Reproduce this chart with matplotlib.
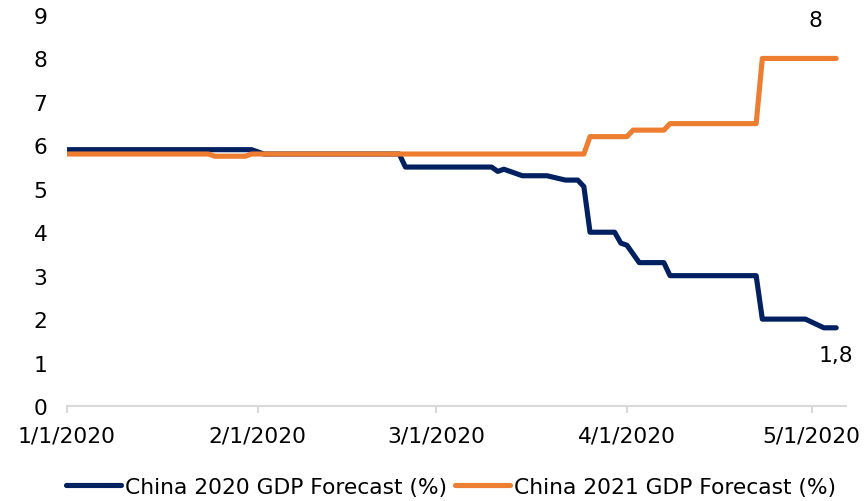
import matplotlib
matplotlib.use("Agg")
import matplotlib.pyplot as plt
import matplotlib.dates as mdates
from datetime import date

plt.rcParams['font.family'] = ['DejaVu Sans']

# China 2020 GDP forecast (%) – change points
dates_2020 = [
    "2020-01-01", "2020-01-31", "2020-02-02", "2020-02-24", "2020-02-25",
    "2020-03-10", "2020-03-11", "2020-03-12", "2020-03-15", "2020-03-19",
    "2020-03-22", "2020-03-24", "2020-03-25", "2020-03-26", "2020-03-30",
    "2020-03-31", "2020-04-01", "2020-04-03", "2020-04-07", "2020-04-08",
    "2020-04-22", "2020-04-23", "2020-04-30", "2020-05-03", "2020-05-05",
]
values_2020 = [
    5.9, 5.9, 5.8, 5.8, 5.5,
    5.5, 5.4, 5.45, 5.3, 5.3,
    5.2, 5.2, 5.05, 4.0, 4.0,
    3.75, 3.7, 3.3, 3.3, 3.0,
    3.0, 2.0, 2.0, 1.8, 1.8,
]

# China 2021 GDP forecast (%) – change points
dates_2021 = [
    "2020-01-01", "2020-01-24", "2020-01-25", "2020-01-30", "2020-01-31",
    "2020-03-25", "2020-03-26", "2020-04-01", "2020-04-02", "2020-04-07",
    "2020-04-08", "2020-04-22", "2020-04-23", "2020-05-05",
]
values_2021 = [
    5.8, 5.8, 5.75, 5.75, 5.8,
    5.8, 6.2, 6.2, 6.35, 6.35,
    6.5, 6.5, 8.0, 8.0,
]

tick_dates = ["2020-01-01", "2020-02-01", "2020-03-01", "2020-04-01", "2020-05-01"]
tick_labels = ["1/1/2020", "2/1/2020", "3/1/2020", "4/1/2020", "5/1/2020"]
y_ticks = list(range(0, 10))

label_2020 = "China 2020 GDP Forecast (%)"
label_2021 = "China 2021 GDP Forecast (%)"

NAVY = "#002060"
ORANGE = "#ED7D31"
AXIS_GREY = "#D9D9D9"
FS = 15.7


def to_num(ds):
    return [mdates.date2num(date.fromisoformat(d)) for d in ds]


x20 = to_num(dates_2020)
x21 = to_num(dates_2021)
xt = to_num(tick_dates)

fig = plt.figure(figsize=(8.68, 5.02), dpi=100)
ax = fig.add_axes([67 / 868, 95 / 502, (846 - 67) / 868, (407 - 16) / 502])

l1, = ax.plot(x20, values_2020, color=NAVY, lw=3.7, solid_capstyle="round",
              solid_joinstyle="round", label=label_2020, zorder=2)
l2, = ax.plot(x21, values_2021, color=ORANGE, lw=3.7, solid_capstyle="round",
              solid_joinstyle="round", label=label_2021, zorder=3)

ax.set_ylim(0, 9)
ax.set_xlim(xt[0], mdates.date2num(date(2020, 5, 6)) + 0.6)

ax.set_yticks(y_ticks)
ax.set_yticklabels([str(v) for v in y_ticks], fontsize=FS)
ax.set_xticks(xt)
ax.set_xticklabels(tick_labels, fontsize=FS)

for s in ("left", "right", "top"):
    ax.spines[s].set_visible(False)
ax.spines["bottom"].set_color(AXIS_GREY)
ax.spines["bottom"].set_linewidth(1.5)
ax.tick_params(axis="y", length=0, pad=14)
ax.tick_params(axis="x", length=5, width=1.5, color=AXIS_GREY, pad=9)

# value labels at the last points
ax.annotate(f"{values_2021[-1]:g}".replace(".", ","), (x21[-1], values_2021[-1]),
            xytext=(-21, 38), textcoords="offset pixels",
            ha="center", va="center", fontsize=FS)
ax.annotate(f"{values_2020[-1]:g}".replace(".", ","), (x20[-1], values_2020[-1]),
            xytext=(0, -27), textcoords="offset pixels",
            ha="center", va="center", fontsize=FS)

fig.legend(handles=[l1, l2], loc="center", bbox_to_anchor=(451 / 868, 14 / 502),
           ncol=2, frameon=False, fontsize=FS, handlelength=2.5,
           handletextpad=0.18, columnspacing=0.4, borderpad=0, borderaxespad=0)

fig.savefig("out.png", dpi=100)
